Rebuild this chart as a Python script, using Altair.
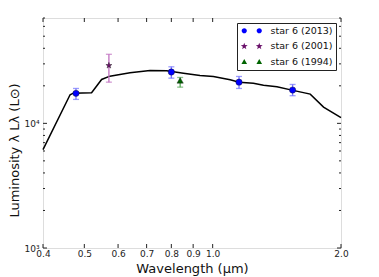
import math
import altair as alt
import pandas as pd

# ---- data ----
model_wl = [0.400, 0.463, 0.471, 0.520, 0.549, 0.574, 0.640, 0.713, 0.780, 0.802, 0.854,
            0.934, 1.004, 1.099, 1.154, 1.246, 1.316, 1.415, 1.534, 1.694, 1.820, 2.000]
model_L = [6160, 16970, 17470, 17600, 22490, 23900, 25440, 26550, 26400, 26060, 25260,
           24210, 23770, 22370, 21400, 21010, 20250, 19660, 18470, 17160, 13500, 11100]

s2013_wl = [0.478, 0.800, 1.153, 1.540]
s2013_L = [17400, 25800, 21400, 18500]
s2013_lo = [15560, 23040, 19050, 16660]
s2013_hi = [19050, 28420, 23770, 20510]

s2001_wl = [0.571]
s2001_L = [29100]
s2001_lo = [21400]
s2001_hi = [35800]

s1994_wl = [0.839]
s1994_L = [22100]
s1994_lo = [19520]
s1994_hi = [23340]

series_names = ["star 6 (2013)", "star 6 (2001)", "star 6 (1994)"]
marker_colors = ["#0000ff", "#6a106a", "#006400"]
err_colors = ["#7474ff", "#c070c0", "#5aaa5a"]

x_ticks = [0.4, 0.5, 0.6, 0.7, 0.8, 0.9, 1.0, 2.0]
y_major = [1000, 10000]
y_minor = [2000, 3000, 4000, 5000, 6000, 7000, 8000, 9000,
           20000, 30000, 40000, 50000, 60000, 70000]


def star_path(cx=0.0, cy=0.0, r=1.0, inner=0.4):
    pts = []
    for i in range(10):
        ang = math.radians(-90 + 36 * i)
        rr = r if i % 2 == 0 else r * inner
        pts.append((cx + rr * math.cos(ang), cy + rr * math.sin(ang)))
    return "M" + "L".join(f"{x:.3f},{y:.3f}" for x, y in pts) + "Z"


def circle_path(cx, r):
    return (f"M{cx - r:.3f},0A{r},{r} 0 1,0 {cx + r:.3f},0"
            f"A{r},{r} 0 1,0 {cx - r:.3f},0Z")


def tri_path(cx, h=0.7):
    return f"M{cx:.3f},{-h}L{cx + h:.3f},{0.55}L{cx - h:.3f},{0.55}Z"


STAR = star_path()
D = 1.875
leg_circle = circle_path(-D, 0.65) + circle_path(D, 0.65)
leg_star = star_path(-D, 0, 0.9) + star_path(D, 0, 0.9)
leg_tri = tri_path(-D) + tri_path(D)

# ---- tables ----
rows = []
for name, wl, L, lo, hi, ec in [
    (series_names[0], s2013_wl, s2013_L, s2013_lo, s2013_hi, err_colors[0]),
    (series_names[1], s2001_wl, s2001_L, s2001_lo, s2001_hi, err_colors[1]),
    (series_names[2], s1994_wl, s1994_L, s1994_lo, s1994_hi, err_colors[2]),
]:
    for a, b, c, d in zip(wl, L, lo, hi):
        rows.append({"series": name, "wl": a, "L": b, "lo": c, "hi": d, "ecol": ec})
obs = pd.DataFrame(rows)
model = pd.DataFrame({"wl": model_wl, "L": model_L})

W, H = 298, 230
xs = alt.Scale(type="log", domain=[0.4, 2.0], nice=False)
ys = alt.Scale(type="log", domain=[1000, 70000], nice=False)

x_axis = alt.Axis(values=x_ticks, format=".1f", title="Wavelength (μm)", ticks=False,
                  labelFontSize=9, labelPadding=1, labelColor="#222", domain=False,
                  titleFontSize=13, titleFontWeight="normal", titleY=20,
                  titleBaseline="middle", titleColor="#111", grid=False,
                  labelFlush=False, labelOverlap=False)
y_axis = alt.Axis(values=y_major, title="Luminosity λ Lλ (L⊙)", ticks=False,
                  labelExpr="datum.value == 1000 ? '10³' : '10⁴'",
                  labelFontSize=9, labelPadding=4, labelColor="#222", domain=False,
                  titleFontSize=13, titleFontWeight="normal", titleX=-29, titleY=132,
                  titleBaseline="middle", titleColor="#111", grid=False)

line = alt.Chart(model).mark_line(color="black", strokeWidth=1.5).encode(
    x=alt.X("wl:Q", scale=xs, axis=x_axis),
    y=alt.Y("L:Q", scale=ys, axis=y_axis),
)

ebar = alt.Chart(obs).mark_rule(strokeWidth=1.3).encode(
    x=alt.X("wl:Q", scale=xs), y=alt.Y("lo:Q", scale=ys), y2="hi:Q",
    color=alt.Color("ecol:N", scale=None),
)
cap_lo = alt.Chart(obs).mark_tick(orient="horizontal", size=6, thickness=1.3).encode(
    x=alt.X("wl:Q", scale=xs), y=alt.Y("lo:Q", scale=ys),
    color=alt.Color("ecol:N", scale=None),
)
cap_hi = alt.Chart(obs).mark_tick(orient="horizontal", size=6, thickness=1.3).encode(
    x=alt.X("wl:Q", scale=xs), y=alt.Y("hi:Q", scale=ys),
    color=alt.Color("ecol:N", scale=None),
)

pts = alt.Chart(obs).mark_point(filled=True, size=40, opacity=1, stroke="#111",
                                strokeWidth=0.4).encode(
    x=alt.X("wl:Q", scale=xs),
    y=alt.Y("L:Q", scale=ys),
    color=alt.Color("series:N", scale=alt.Scale(domain=series_names, range=marker_colors),
                    legend=None),
    shape=alt.Shape("series:N", scale=alt.Scale(domain=series_names,
                                                range=["circle", STAR, "triangle-up"]),
                    legend=None),
)

leg = dict(title=None, orient="top-right", offset=5,
           strokeColor="#222", fillColor="white", padding=3,
           labelFontSize=9.5, labelColor="#111",
           symbolSize=64, symbolOffset=7, labelOffset=14,
           rowPadding=4.5, symbolStrokeWidth=0, symbolOpacity=1)

legend_pts = alt.Chart(obs).mark_point(filled=True, size=40, opacity=0).encode(
    x=alt.X("wl:Q", scale=xs),
    y=alt.Y("L:Q", scale=ys),
    color=alt.Color("series:N", scale=alt.Scale(domain=series_names, range=marker_colors),
                    legend=alt.Legend(**leg)),
    shape=alt.Shape("series:N", scale=alt.Scale(domain=series_names,
                                                range=[leg_circle, leg_star, leg_tri]),
                    legend=alt.Legend(**leg)),
)

# inward ticks
xt = pd.DataFrame({"v": x_ticks})
ymaj = pd.DataFrame({"v": y_major})
ymin = pd.DataFrame({"v": y_minor})
tick_col = "#222"
xt_bot = alt.Chart(xt).mark_rule(color=tick_col).encode(
    x=alt.X("v:Q", scale=xs), y=alt.value(H), y2=alt.value(H - 4))
xt_top = alt.Chart(xt).mark_rule(color=tick_col).encode(
    x=alt.X("v:Q", scale=xs), y=alt.value(0), y2=alt.value(4))
yt_l = alt.Chart(ymaj).mark_rule(color=tick_col).encode(
    y=alt.Y("v:Q", scale=ys), x=alt.value(0), x2=alt.value(4))
yt_r = alt.Chart(ymaj).mark_rule(color=tick_col).encode(
    y=alt.Y("v:Q", scale=ys), x=alt.value(W), x2=alt.value(W - 4))
ym_l = alt.Chart(ymin).mark_rule(color=tick_col).encode(
    y=alt.Y("v:Q", scale=ys), x=alt.value(0), x2=alt.value(2))
ym_r = alt.Chart(ymin).mark_rule(color=tick_col).encode(
    y=alt.Y("v:Q", scale=ys), x=alt.value(W), x2=alt.value(W - 2))

chart = alt.layer(line, ebar, cap_lo, cap_hi, pts, legend_pts,
                  xt_bot, xt_top, yt_l, yt_r, ym_l, ym_r
                  ).resolve_scale(shape="independent", color="independent").properties(
    width=W, height=H,
    autosize=alt.AutoSizeParams(type="none"),
    padding={"left": 35, "top": 10, "right": 30, "bottom": 32},
).configure_view(stroke="#333", strokeWidth=1).configure(
    font="DejaVu Sans", background="white")

chart.save("out.html", embed_options={"renderer": "svg", "actions": False})
